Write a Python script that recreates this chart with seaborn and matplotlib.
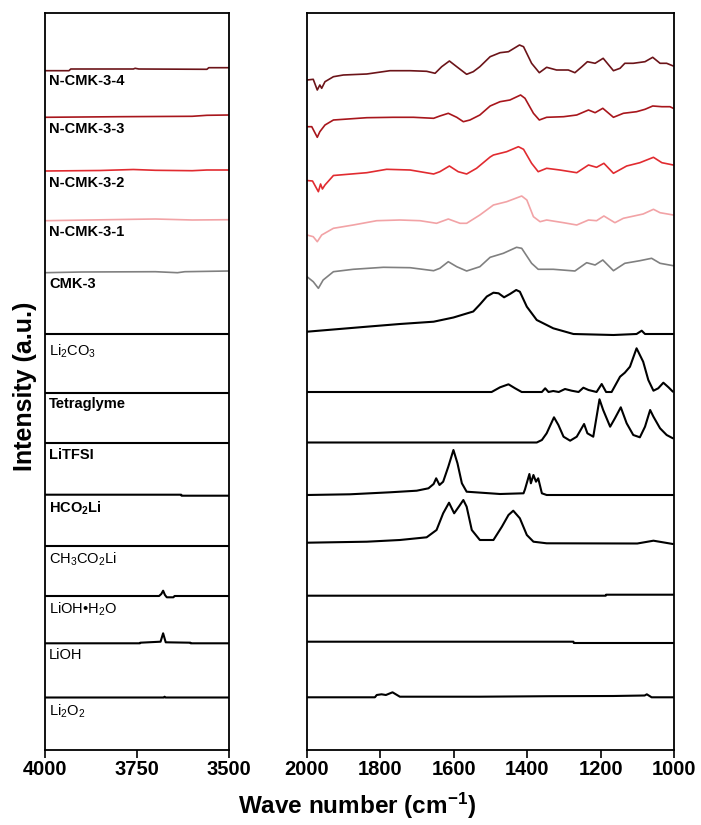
import matplotlib
matplotlib.use("Agg")
import matplotlib.pyplot as plt
import pandas as pd
import seaborn as sns

# ---------------- data (intensities in a.u., relative to each trace's baseline) -------------
samples = ["N-CMK-3-4", "N-CMK-3-3", "N-CMK-3-2", "N-CMK-3-1", "CMK-3", "Li2CO3",
           "Tetraglyme", "LiTFSI", "HCO2Li", "CH3CO2Li", "LiOH.H2O", "LiOH", "Li2O2"]
labels = ["N-CMK-3-4", "N-CMK-3-3", "N-CMK-3-2", "N-CMK-3-1", "CMK-3",
          "Li$_2$CO$_3$", "Tetraglyme", "LiTFSI", r"HCO$_\mathbf{2}$Li",
          "CH$_3$CO$_2$Li", "LiOH\u2022H$_2$O", "LiOH", "Li$_2$O$_2$"]

# high wavenumber window (4000-3500 cm-1)
n4_hi_wn = [4000, 3935, 3930, 3760, 3755, 3745, 3560, 3555, 3500]
n4_hi_i = [-1.7, -1.7, 0, 0, 0.7, 0, -0.3, 1.3, 1.3]
n3_hi_wn = [4000, 3800, 3600, 3560, 3500]
n3_hi_i = [-0.3, 0.3, 0.7, 1.7, 2]
n2_hi_wn = [4000, 3850, 3760, 3700, 3600, 3560, 3500]
n2_hi_i = [0, 0.5, 1.5, 0.7, 0.3, 1, 1]
n1_hi_wn = [4000, 3760, 3700, 3600, 3500]
n1_hi_i = [-0.7, 0.7, 1, 0, 0.3]
cmk_hi_wn = [4000, 3900, 3700, 3640, 3620, 3500]
cmk_hi_i = [-0.7, 0, 0.3, -0.7, 0.3, 1]
lc_hi_wn = [4000, 3500]
lc_hi_i = [0, 0]
tg_hi_wn = [4000, 3500]
tg_hi_i = [-0.5, -0.5]
lt_hi_wn = [4000, 3500]
lt_hi_i = [-0.8, -0.8]
hf_hi_wn = [4000, 3630, 3629, 3500]
hf_hi_i = [0.3, 0.3, -0.7, -0.7]
ac_hi_wn = [4000, 3500]
ac_hi_i = [-0.2, -0.2]
lhw_hi_wn = [4000, 3690, 3684, 3679, 3674, 3669, 3651, 3648, 3500]
lhw_hi_i = [0, 0, 2, 5.3, 1, -1.3, -1.3, 0, 0]
lh_hi_wn = [4000, 3742, 3741, 3686, 3679, 3672, 3605, 3604, 3500]
lh_hi_i = [0, 0, 0.6, 1.6, 10, 1, 0.6, 0, 0]
lp_hi_wn = [4000, 3677, 3675, 3673, 3500]
lp_hi_i = [0, 0, 0.8, 0, 0]

# low wavenumber window (2000-1000 cm-1)
n4_lo_wn = [2000, 1983, 1972, 1965, 1960, 1951, 1928, 1901, 1837, 1774, 1719, 1674, 1651, 1633,
            1612, 1592, 1565, 1547, 1529, 1501, 1474, 1451, 1421, 1410, 1388, 1367, 1347, 1320,
            1288, 1270, 1251, 1236, 1215, 1193, 1165, 1147, 1134, 1111, 1079, 1058, 1038, 1020, 1002]
n4_lo_i = [-11, -10.3, -21, -16, -19.3, -12.7, -7.7, -6, -5, -1.7, -1.7, -2.3, -4.3, 2.3,
           8, 2.3, -5.3, -2.7, 2.3, 12.3, 16.3, 17.3, 24, 22.3, 5.7, -3.7, 1.7, -1,
           -1, -3.7, 2.3, 7.3, 5.7, 10.7, -1.7, 0.7, 5.7, 5.7, 7.3, 11.7, 5.7, 5.7, 3]
n3_lo_wn = [2000, 1987, 1972, 1965, 1951, 1928, 1837, 1765, 1710, 1655, 1638, 1615, 1592, 1574,
            1556, 1529, 1501, 1474, 1447, 1418, 1406, 1383, 1367, 1347, 1301, 1265, 1233, 1215,
            1194, 1165, 1138, 1102, 1079, 1058, 1033, 1011, 1002]
n3_lo_i = [-9.7, -9.7, -20.3, -14.7, -8, -3, -0.7, -0.3, -0.3, -1.3, 1, 3.7, -0.3, -4.7,
           -3, 2, 11, 15.3, 17, 22, 18.7, 3.7, -3, -0.3, 0.3, 2, 7, 4.3,
           8.7, -0.3, 3.7, 5.3, 7.7, 11, 10.3, 10.3, 8.7]
n2_lo_wn = [2000, 1985, 1969, 1963, 1958, 1951, 1928, 1837, 1783, 1719, 1655, 1638, 1612, 1588,
            1565, 1538, 1501, 1492, 1456, 1424, 1410, 1388, 1370, 1347, 1311, 1265, 1233, 1211,
            1191, 1165, 1129, 1093, 1056, 1033, 1002]
n2_lo_i = [-9.5, -10, -20.7, -13, -18, -14, -4.5, -1.7, 1.7, 1, -3, -0.7, 5, -0.7,
           -3, 2.7, 14, 16, 19.3, 24.3, 21.7, 7.7, -0.7, 2.7, 1, -1.7, 6, 3.7,
           7.7, -2.3, 5, 8.3, 13.7, 8.3, 6]
n1_lo_wn = [2000, 1983, 1972, 1960, 1928, 1874, 1810, 1747, 1692, 1647, 1615, 1583, 1565, 1529,
            1492, 1456, 1415, 1401, 1383, 1365, 1347, 1301, 1265, 1233, 1211, 1191, 1161, 1138,
            1084, 1056, 1038, 1002]
n1_lo_i = [-15, -16.7, -21.7, -15, -8.3, -5, -0.7, 0, -0.7, -3.3, 1, -3.3, -3.3, 5,
           15, 18.3, 24, 20, 3.3, -1.7, 0, -2.7, -5, 0, -0.7, 4, -2.7, 1.7,
           6, 10.7, 7.3, 5]
cmk_lo_wn = [2000, 1983, 1969, 1956, 1928, 1874, 1792, 1719, 1655, 1638, 1615, 1592, 1565, 1529,
             1501, 1465, 1429, 1415, 1388, 1370, 1329, 1270, 1238, 1215, 1194, 1165, 1134, 1093,
             1061, 1038, 1002]
cmk_lo_i = [-4.7, -9.7, -16.3, -8, 0.3, 2.7, 4.7, 4.3, 1.3, 3.7, 10.3, 5.3, 1, 5.3,
            14.7, 18.7, 24.7, 23.7, 8.7, 2.7, 2.7, 1, 9.3, 7, 12, 1.3, 8.7, 11.3,
            13.7, 8.7, 6.3]
lc_lo_wn = [2000, 1837, 1747, 1655, 1601, 1547, 1529, 1510, 1492, 1478, 1463, 1447, 1430, 1420,
            1401, 1374, 1329, 1274, 1165, 1102, 1088, 1079, 1002]
lc_lo_i = [1.8, 6.8, 9.5, 11.8, 16, 22, 29, 37, 40.8, 40.2, 36.2, 39.5, 43.5, 41.8,
           26.8, 13.5, 5.2, -0.5, -1.5, -0.5, 2.8, -0.5, -0.5]
tg_lo_wn = [2000, 1497, 1474, 1451, 1433, 1415, 1360, 1351, 1342, 1329, 1314, 1297, 1279, 1260,
            1247, 1233, 1211, 1197, 1185, 1170, 1147, 1134, 1120, 1102, 1084, 1070, 1056, 1043,
            1029, 1015, 1003]
tg_lo_i = [0, 0, 4.7, 7.7, 3.7, 0, 0, 3.7, 0, 1, 0, 3, 1.3, 0,
           4.3, 2, 0, 8, 0, 0, 15.3, 19.3, 25.3, 43.7, 30.3, 12, 1.3, 3.7,
           9.3, 4.7, 0.3]
lt_lo_wn = [2000, 1374, 1360, 1347, 1327, 1315, 1301, 1283, 1265, 1245, 1236, 1220, 1203, 1193,
            1174, 1161, 1145, 1129, 1111, 1093, 1079, 1065, 1056, 1038, 1020, 1003]
lt_lo_i = [0, 0, 2.5, 9.2, 25.2, 17.5, 5.8, 1.8, 5.8, 18.5, 9.2, 5.8, 43.2, 32.5,
           15.8, 24.2, 35.2, 19.2, 7.5, 5.2, 15.8, 32.5, 25.8, 14.2, 7.5, 4.2]
hf_lo_wn = [2000, 1883, 1774, 1701, 1669, 1655, 1648, 1639, 1629, 1615, 1601, 1590, 1578, 1565,
            1474, 1410, 1406, 1394, 1390, 1383, 1376, 1370, 1360, 1347, 1000]
hf_lo_i = [0, 0.7, 2.7, 4.3, 6.7, 11, 16.7, 10, 13.3, 28.3, 45, 31.7, 11.7, 3.3,
           1, 1.7, 5.7, 21, 11.7, 20, 13.3, 16.7, 1.7, 0, 0]
ac_lo_wn = [2000, 1837, 1747, 1674, 1647, 1629, 1613, 1599, 1585, 1574, 1565, 1551, 1529, 1492,
            1469, 1451, 1438, 1420, 1401, 1383, 1347, 1100, 1056, 1003]
ac_lo_i = [2.8, 3.8, 5.5, 8.2, 15.5, 32.2, 42.8, 32.2, 39.5, 45.5, 38.8, 15.5, 5.5, 5.5,
           18.8, 30.5, 34.8, 27.2, 10.5, 3.8, 2.2, 2, 4.8, 1.5]
lhw_lo_wn = [2000, 1186, 1185, 1000]
lhw_lo_i = [0.3, 0.3, 1.3, 1.3]
lh_lo_wn = [2000, 1274, 1273, 1000]
lh_lo_i = [1.6, 1.6, 0.3, 0.3]
lp_lo_wn = [2000, 1815, 1810, 1797, 1785, 1767, 1747, 1530, 1340, 1165, 1080, 1074, 1061, 1000]
lp_lo_i = [0.2, 0.2, 2.5, 3.2, 2.5, 5.2, 0.8, 0.8, 1.3, 1.5, 2, 3.2, 0.2, 0.2]

hi_wn = [n4_hi_wn, n3_hi_wn, n2_hi_wn, n1_hi_wn, cmk_hi_wn, lc_hi_wn, tg_hi_wn, lt_hi_wn,
         hf_hi_wn, ac_hi_wn, lhw_hi_wn, lh_hi_wn, lp_hi_wn]
hi_i = [n4_hi_i, n3_hi_i, n2_hi_i, n1_hi_i, cmk_hi_i, lc_hi_i, tg_hi_i, lt_hi_i,
        hf_hi_i, ac_hi_i, lhw_hi_i, lh_hi_i, lp_hi_i]
lo_wn = [n4_lo_wn, n3_lo_wn, n2_lo_wn, n1_lo_wn, cmk_lo_wn, lc_lo_wn, tg_lo_wn, lt_lo_wn,
         hf_lo_wn, ac_lo_wn, lhw_lo_wn, lh_lo_wn, lp_lo_wn]
lo_i = [n4_lo_i, n3_lo_i, n2_lo_i, n1_lo_i, cmk_lo_i, lc_lo_i, tg_lo_i, lt_lo_i,
        hf_lo_i, ac_lo_i, lhw_lo_i, lh_lo_i, lp_lo_i]

# ---------------- style / layout ----------------
colors = ["#6c1419", "#a8161c", "#e12b30", "#f2a3a6", "#808080"] + ["#000000"] * 8
widths = [1.2] * 5 + [1.5] * 8
bold_label = [True, True, True, True, True, False, True, True, True, False, False, False, False]
label_gap = [5, 5, 5, 5, 5, 9, 5, 5, 5, 5, 5, 5, 5]
offsets = [681, 633, 579, 530, 478, 416.5, 358, 307.5, 255, 204.5, 154, 106.7, 52.5]

sns.set_style("white")
plt.rcParams["font.family"] = ["Liberation Sans", "DejaVu Sans"]
plt.rcParams["mathtext.fontset"] = "custom"
plt.rcParams["mathtext.rm"] = "Liberation Sans"
plt.rcParams["mathtext.bf"] = "Liberation Sans:bold"
plt.rcParams["mathtext.it"] = "Liberation Sans:italic"
plt.rcParams["text.color"] = "black"
plt.rcParams["xtick.color"] = "black"
plt.rcParams["xtick.labelcolor"] = "black"
plt.rcParams["axes.labelcolor"] = "black"

W, H = 701, 825
fig = plt.figure(figsize=(W / 100, H / 100), dpi=100)
ax1 = fig.add_axes([45 / W, 75 / H, 184 / W, 737 / H])
ax2 = fig.add_axes([307 / W, 75 / H, 367 / W, 737 / H])

for k, name in enumerate(samples):
    dhi = pd.DataFrame({"wn": hi_wn[k], "y": [offsets[k] + v for v in hi_i[k]]})
    dlo = pd.DataFrame({"wn": lo_wn[k], "y": [offsets[k] + v for v in lo_i[k]]})
    sns.lineplot(data=dhi, x="wn", y="y", sort=False, estimator=None, ax=ax1,
                 color=colors[k], lw=widths[k])
    sns.lineplot(data=dlo, x="wn", y="y", sort=False, estimator=None, ax=ax2,
                 color=colors[k], lw=widths[k])
    ax1.text(0.022, offsets[k] - label_gap[k], labels[k], color="black",
             transform=ax1.get_yaxis_transform(), ha="left", va="top",
             fontsize=10.5, fontweight="bold" if bold_label[k] else "normal")

ax1.set_xlim(4000, 3500)
ax2.set_xlim(2000, 1000)
ax1.set_xticks([4000, 3750, 3500])
ax2.set_xticks([2000, 1800, 1600, 1400, 1200, 1000])
for ax in (ax1, ax2):
    ax.set_ylim(0, 737)
    ax.set_yticks([])
    ax.set_xlabel("")
    ax.set_ylabel("")
    ax.tick_params(axis="x", direction="out", length=5.5, width=1.2, pad=2,
                   labelsize=14.5, bottom=True, colors="black")
    for lab in ax.get_xticklabels():
        lab.set_fontweight("bold")
    for sp in ax.spines.values():
        sp.set_visible(True)
        sp.set_color("black")
        sp.set_linewidth(1.3)

fig.text(25 / W, 1 - 386 / H, "Intensity (a.u.)", rotation=90, ha="center", va="center",
         fontsize=18, fontweight="bold", color="black")
fig.text(357 / W, 1 - 806 / H, r"Wave number (cm$^{\mathbf{-1}}$)", ha="center", va="center",
         fontsize=17.5, fontweight="bold", color="black")

fig.savefig("out.png", dpi=100)
